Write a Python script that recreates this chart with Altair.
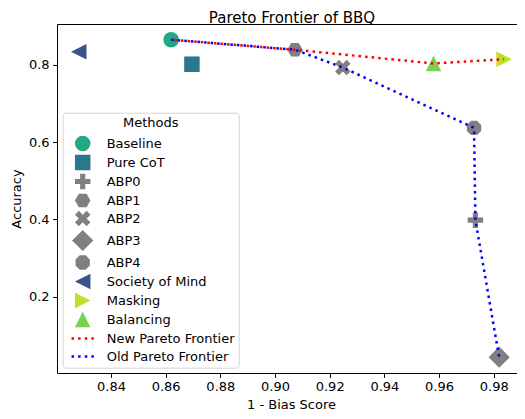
import altair as alt
import pandas as pd

# ---- data ----
methods = ["Baseline", "Pure CoT", "ABP0", "ABP1", "ABP2", "ABP3", "ABP4",
           "Society of Mind", "Masking", "Balancing"]
bias_score = [0.8620, 0.8696, 0.9733, 0.9073, 0.9248, 0.9820, 0.9728,
              0.8282, 0.9838, 0.9580]
accuracy = [0.8655, 0.8020, 0.3980, 0.8395, 0.7935, 0.0430, 0.6370,
            0.8342, 0.8150, 0.8040]
frontier_names = ["New Pareto Frontier", "Old Pareto Frontier"]
new_frontier = ["Baseline", "ABP1", "Balancing", "Masking"]
old_frontier = ["Baseline", "ABP1", "ABP2", "ABP4", "ABP0", "ABP3"]
x_ticks = [0.84, 0.86, 0.88, 0.90, 0.92, 0.94, 0.96, 0.98]
y_ticks = [0.2, 0.4, 0.6, 0.8]

# ---- styling ----
colors = ["#22a884", "#2a788e", "#808080", "#808080", "#808080", "#808080",
          "#808080", "#3b528b", "#bddf26", "#7ad151", "#ff0000", "#0000ff"]
plus = "M-0.333,-1H0.333V-0.333H1V0.333H0.333V1H-0.333V0.333H-1V-0.333H-0.333Z"
hexagon = "M1,0L0.5,0.866L-0.5,0.866L-1,0L-0.5,-0.866L0.5,-0.866Z"
xshape = ("M-0.5,-1L0,-0.5L0.5,-1L1,-0.5L0.5,0L1,0.5L0.5,1L0,0.5L-0.5,1"
          "L-1,0.5L-0.5,0L-1,-0.5Z")
diamond = "M0,-1.37L1.37,0L0,1.37L-1.37,0Z"
octagon = ("M0.924,0.383L0.383,0.924L-0.383,0.924L-0.924,0.383L-0.924,-0.383"
           "L-0.383,-0.924L0.383,-0.924L0.924,-0.383Z")
tri_left = "M-1,0L1,-1L1,1Z"
tri_right = "M1,0L-1,-1L-1,1Z"
tri_up = "M0,-1L1,1L-1,1Z"
dots = ("M-1.44,-0.16h0.32v0.32h-0.32Z M-0.59,-0.16h0.32v0.32h-0.32Z "
        "M0.27,-0.16h0.32v0.32h-0.32Z M1.12,-0.16h0.32v0.32h-0.32Z")
shapes = ["circle", "square", plus, hexagon, xshape, diamond, octagon,
          tri_left, tri_right, tri_up, dots, dots]

domain_labels = methods + frontier_names

pts = pd.DataFrame({"label": methods, "x": bias_score, "y": accuracy})
lookup = {m: (bx, ay) for m, bx, ay in zip(methods, bias_score, accuracy)}
new_df = pd.DataFrame({"x": [lookup[m][0] for m in new_frontier],
                       "y": [lookup[m][1] for m in new_frontier],
                       "step": list(range(len(new_frontier)))})
old_df = pd.DataFrame({"x": [lookup[m][0] for m in old_frontier],
                       "y": [lookup[m][1] for m in old_frontier],
                       "step": list(range(len(old_frontier)))})

FONT = "DejaVu Sans"
xscale = alt.Scale(domain=[0.82025, 0.98852], nice=False, zero=False)
yscale = alt.Scale(domain=[0.0021, 0.9062], nice=False, zero=False)

xaxis = alt.Axis(values=x_ticks, format=".2f", title="1 - Bias Score",
                 grid=False, orient="bottom", titleX=234, titleY=35,
                 titleBaseline="alphabetic", titleAnchor="middle",
                 titleAlign="center")
xaxis_top = alt.Axis(orient="top", labels=False, ticks=False, grid=False,
                     title=None, domain=True, domainColor="black")
yaxis = alt.Axis(values=y_ticks, format=".1f", title="Accuracy", grid=False,
                 titleX=-37, titleY=174.5, titleAngle=-90,
                 titleBaseline="alphabetic", titleAlign="center")

points = alt.Chart(pts).mark_point(filled=True, size=240, opacity=1,
                                   strokeWidth=0).encode(
    x=alt.X("x:Q", scale=xscale, axis=xaxis),
    y=alt.Y("y:Q", scale=yscale, axis=yaxis),
    color=alt.Color("label:N", scale=alt.Scale(domain=domain_labels, range=colors),
                    legend=alt.Legend(title="Methods")),
    shape=alt.Shape("label:N", scale=alt.Scale(domain=domain_labels, range=shapes),
                    legend=alt.Legend(
                        title="Methods",
                        labelExpr="datum.label == 'New Pareto Frontier' ? "
                                  "datum.label + '\u00a0' : datum.label")),
)

line_new = alt.Chart(new_df).mark_line(color="#ff0000", strokeWidth=2.5,
                                       strokeDash=[2.5, 4.1],
                                       strokeDashOffset=3.3).encode(
    x=alt.X("x:Q", scale=xscale, axis=xaxis_top),
    y=alt.Y("y:Q", scale=yscale),
    order="step:Q")
line_old = alt.Chart(old_df).mark_line(color="#0000ff", strokeWidth=2.5,
                                       strokeDash=[2.5, 4.1]).encode(
    x=alt.X("x:Q", scale=xscale, axis=None),
    y=alt.Y("y:Q", scale=yscale),
    order="step:Q")

chart = alt.layer(points, line_new, line_old).resolve_axis(
    x="independent"
).properties(
    width=460, height=349,
    title=alt.TitleParams("Pareto Frontier of BBQ", fontSize=15,
                          fontWeight="normal", font=FONT, anchor="middle",
                          offset=-1.5, dx=5, color="black"),
    autosize=alt.AutoSizeParams(type="none"),
    padding={"left": 49, "top": 16, "right": 0, "bottom": 38},
).configure_view(stroke=None).configure_axis(
    domainColor="black", domainWidth=1, tickColor="black", tickSize=4.4,
    tickWidth=1, labelFont=FONT, labelFontSize=13, labelColor="black",
    labelPadding=3.5, titleFont=FONT, titleFontSize=13,
    titleFontWeight="normal", titleColor="black",
).configure_legend(
    orient="none", legendX=5.7, legendY=88.7,
    fillColor="rgba(255,255,255,0.8)", strokeColor="#d6d6d6", cornerRadius=3,
    padding=4, titleFont=FONT, titleFontSize=13, titleFontWeight="normal",
    titleColor="black", titleAnchor="middle", titlePadding=5.8,
    labelFont=FONT, labelFontSize=13, labelColor="black",
    symbolSize=240, symbolStrokeWidth=0, symbolOffset=8, labelOffset=16,
    rowPadding=3, labelLimit=300,
)

chart.save("out.html", embed_options={"renderer": "svg", "actions": False})
